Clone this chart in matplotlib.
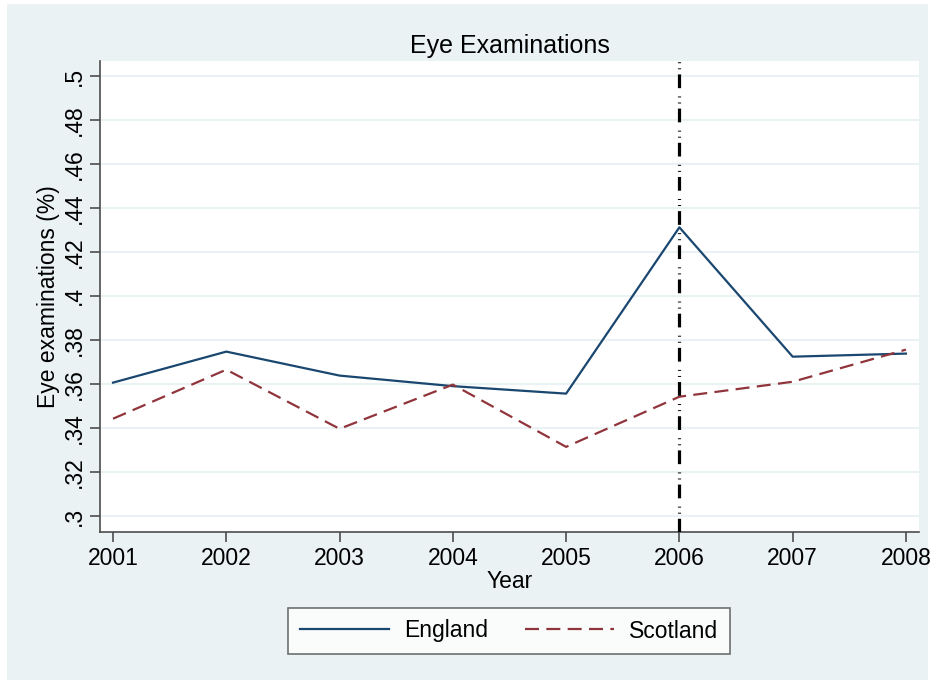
import matplotlib.pyplot as plt
from matplotlib.patches import Rectangle

plt.rcParams['font.family'] = ['Liberation Sans', 'DejaVu Sans']

# datos
years = [2001, 2002, 2003, 2004, 2005, 2006, 2007, 2008]
england = [0.3606, 0.3747, 0.3638, 0.3590, 0.3556, 0.4312, 0.3724, 0.3738]
scotland = [0.3442, 0.3665, 0.3396, 0.3597, 0.3314, 0.3542, 0.3610, 0.3756]
yticks = [0.30, 0.32, 0.34, 0.36, 0.38, 0.40, 0.42, 0.44, 0.46, 0.48, 0.50]
ytick_labels = [".3", ".32", ".34", ".36", ".38", ".4", ".42", ".44", ".46", ".48", ".5"]
policy_year = 2006

bg = "#eaf2f3"
axis_col = "#4d4d4d"
fs = 16.5

fig = plt.figure(figsize=(9.32, 6.81), dpi=100, facecolor="white")
# panel de fondo estilo Stata
fig.patches.append(Rectangle((7 / 932, 1 / 681), 921 / 932, 676 / 681,
                             transform=fig.transFigure, facecolor=bg,
                             edgecolor="none", zorder=-1))

ax = fig.add_axes([0.1073, 0.2188, 0.8787, 0.6916])
ax.set_facecolor("white")

for y in yticks:
    ax.axhline(y, color=bg, linewidth=1.5, zorder=0)

ax.plot(years, england, color="#1a476f", linewidth=1.6, label="England", zorder=3)
ax.plot(years, scotland, color="#90353b", linewidth=1.6, linestyle=(0, (6.3, 3.3)),
        label="Scotland", zorder=3)
ax.axvline(policy_year, color="black", linewidth=2.3,
           linestyle=(0, (4.3, 1.6, 0.3, 1.6, 0.3, 2.6)), zorder=4)

ax.set_xlim(2000.885, 2008.115)
ax.set_ylim(0.2927, 0.5068)
ax.set_xticks(years)
ax.set_xticklabels([str(y) for y in years], fontsize=fs)
ax.set_yticks(yticks)
ax.set_yticklabels(ytick_labels, fontsize=fs, rotation=90, va="center")

for s in ["top", "right"]:
    ax.spines[s].set_visible(False)
for s in ["left", "bottom"]:
    ax.spines[s].set_color(axis_col)
    ax.spines[s].set_linewidth(1.2)
ax.tick_params(axis="both", colors=axis_col, labelcolor="black", length=7, width=1.2)
ax.tick_params(axis="y", pad=3)

ax.set_title("Eye Examinations", fontsize=18, pad=6)
ax.set_xlabel("Year", fontsize=fs, labelpad=0)
ax.set_ylabel("Eye examinations (%)", fontsize=fs, labelpad=2)

leg = fig.legend(loc="center", bbox_to_anchor=(509 / 932, 1 - 631 / 681), ncol=2,
                 fontsize=fs, frameon=True, fancybox=False, edgecolor=axis_col,
                 handlelength=3.9, handletextpad=0.65, columnspacing=1.6,
                 borderpad=0.5)
leg.get_frame().set_linewidth(1.2)

fig.savefig("out.png", dpi=100, facecolor="white")
